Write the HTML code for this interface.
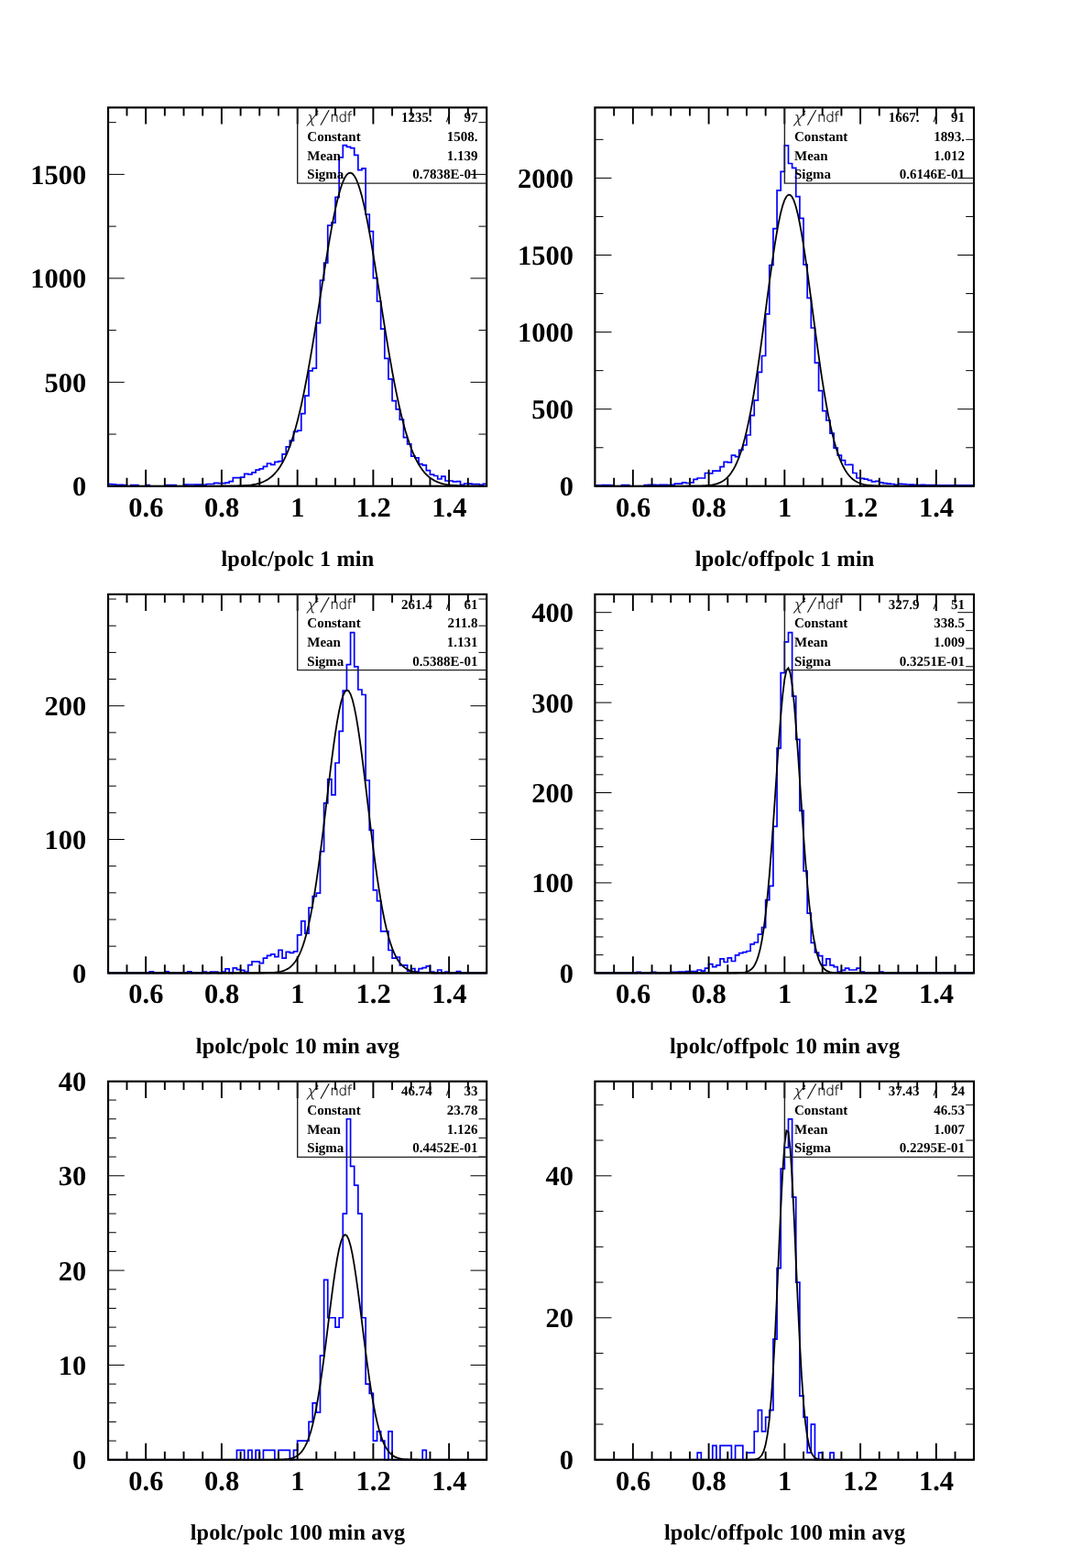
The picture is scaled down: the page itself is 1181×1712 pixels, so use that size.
<!DOCTYPE html>
<html lang="en">
<head>
<meta charset="utf-8">
<title>lpolc ratio fits</title>
<style>
html,body{margin:0;padding:0;background:#fff;}
body{width:1181px;height:1712px;overflow:hidden;}
svg{display:block;position:absolute;left:0;top:0;}
text{font-family:"Liberation Serif","DejaVu Serif",serif;font-weight:bold;fill:#000;text-rendering:geometricPrecision;}
.tl{font-size:30.5px;}
.ti{font-size:24.25px;letter-spacing:0.16px;}
.sv{font-size:15px;}
.chi{font-family:"DejaVu Sans Light","DejaVu Sans","Liberation Sans",sans-serif;font-weight:200;font-size:14.4px;fill:#000;stroke:#000;stroke-width:0.22px;}
.ci{font-style:italic;font-size:16.2px;}
.sl{font-size:22px;stroke:none;}
.nd{font-size:15.2px;letter-spacing:-0.35px;}
.sup{font-family:"Liberation Serif","DejaVu Serif",serif;font-weight:bold;font-size:7px;stroke:none;}
.h{fill:none;stroke:#0000ff;stroke-width:1.7;stroke-linejoin:miter;}
.f{fill:none;stroke:#000;stroke-width:1.8;stroke-linejoin:miter;stroke-miterlimit:10;}
.fr{fill:none;stroke:#000;stroke-width:2.15;}
.tx{fill:none;stroke:#000;stroke-width:1.9;}
.ty{fill:none;stroke:#000;stroke-width:1;}
.sb{fill:none;stroke:#222;stroke-width:1.4;}
</style>
</head>
<body>
<svg width="1181" height="1712" viewBox="0 0 1181 1712">
<rect width="1181" height="1712" fill="#fff"/>
<g class="panel">
<path class="h" d="M118.4 530.8V528.6H121.94V528.8H126.07V529.3H134.35V529.5H138.48V530.8H142.62V529.5H150.9V530.8H159.17V529.6H163.31V530.8H179.85V529.5H188.13V529.6H192.27V530.8H200.54V529.2H204.68V529H212.95V529.2H221.22V529.3H225.36V528.5H233.64V527.3H237.77V527.7H246.05V527.1H250.18V525.7H254.32V521.6H262.59V521.1H266.73V517.4H270.87V517.9H275.01V515.8H279.14V513.1H283.28V511.9H287.42V509.3H291.55V506H295.69V507.3H299.83V504.4H303.96V503.7H308.1V495.8H312.24V487.9H316.38V481.1H320.51V471.3H324.65V470.2H328.79V451.7H332.92V432.2H337.06V404.8H341.2V402.1H345.33V352.7H349.47V306H353.61V287H357.75V246.1H361.88V243.1H366.02V215.3H370.16V171.8H374.29V158.7H378.43V160.4H382.57V161.7H386.7V169.4H390.84V185.6H394.98V183.9H399.12V234H403.25V252.6H407.39V303.6H411.53V329H415.66V359.2H419.8V391.3H423.94V413.8H428.07V437.7H432.21V446.9H436.35V458.2H440.49V477.6H444.62V484.8H448.76V498.1H452.9V499.9H457.03V506.6H461.17V507.9H465.31V513.6H469.44V518.1H473.58V519.5H477.72V523H481.86V520.1H485.99V525H494.27V525.9H498.4V525.7H502.54V529.3H506.68V528H510.81V528.2H514.95V528.6H519.09V528.7H523.23V529.4H527.36V528.3H530.9V530.8"/>
<polyline class="f" points="117.8,530.8 119.87,530.8 121.94,530.8 124.01,530.8 126.07,530.8 128.14,530.8 130.21,530.8 132.28,530.8 134.35,530.8 136.42,530.8 138.49,530.8 140.55,530.8 142.62,530.8 144.69,530.8 146.76,530.8 148.83,530.8 150.9,530.8 152.96,530.8 155.03,530.8 157.1,530.8 159.17,530.8 161.24,530.8 163.31,530.8 165.38,530.8 167.44,530.8 169.51,530.8 171.58,530.8 173.65,530.8 175.72,530.8 177.79,530.8 179.86,530.8 181.92,530.8 183.99,530.8 186.06,530.8 188.13,530.8 190.2,530.8 192.27,530.8 194.33,530.8 196.4,530.8 198.47,530.8 200.54,530.8 202.61,530.8 204.68,530.8 206.75,530.8 208.81,530.8 210.88,530.8 212.95,530.8 215.02,530.8 217.09,530.8 219.16,530.8 221.22,530.8 223.29,530.8 225.36,530.8 227.43,530.8 229.5,530.79 231.57,530.79 233.64,530.79 235.7,530.79 237.77,530.78 239.84,530.78 241.91,530.77 243.98,530.76 246.05,530.75 248.12,530.73 250.18,530.71 252.25,530.69 254.32,530.66 256.39,530.61 258.46,530.56 260.53,530.5 262.6,530.42 264.66,530.32 266.73,530.19 268.8,530.04 270.87,529.85 272.94,529.62 275.01,529.34 277.07,529.01 279.14,528.6 281.21,528.11 283.28,527.52 285.35,526.83 287.42,526.01 289.49,525.04 291.55,523.9 293.62,522.57 295.69,521.02 297.76,519.23 299.83,517.17 301.9,514.8 303.96,512.11 306.03,509.04 308.1,505.58 310.17,501.68 312.24,497.32 314.31,492.46 316.38,487.08 318.44,481.14 320.51,474.62 322.58,467.51 324.65,459.78 326.72,451.44 328.79,442.47 330.86,432.89 332.92,422.72 334.99,411.97 337.06,400.68 339.13,388.9 341.2,376.68 343.27,364.09 345.34,351.2 347.4,338.1 349.47,324.88 351.54,311.65 353.61,298.52 355.68,285.6 357.75,273.02 359.81,260.89 361.88,249.33 363.95,238.48 366.02,228.43 368.09,219.32 370.16,211.23 372.23,204.26 374.29,198.5 376.36,194.01 378.43,190.84 380.5,189.03 382.57,188.62 384.64,189.59 386.7,191.94 388.77,195.65 390.84,200.65 392.91,206.91 394.98,214.34 397.05,222.85 399.12,232.35 401.18,242.73 403.25,253.88 405.32,265.68 407.39,278 409.46,290.74 411.53,303.75 413.6,316.94 415.66,330.17 417.73,343.36 419.8,356.38 421.87,369.16 423.94,381.61 426.01,393.67 428.07,405.26 430.14,416.33 432.21,426.86 434.28,436.8 436.35,446.13 438.42,454.85 440.49,462.95 442.55,470.43 444.62,477.3 446.69,483.58 448.76,489.3 450.83,494.47 452.9,499.12 454.97,503.3 457.03,507.01 459.1,510.31 461.17,513.23 463.24,515.79 465.31,518.03 467.38,519.98 469.45,521.67 471.51,523.12 473.58,524.37 475.65,525.44 477.72,526.35 479.79,527.12 481.86,527.77 483.92,528.32 485.99,528.77 488.06,529.15 490.13,529.46 492.2,529.72 494.27,529.93 496.34,530.11 498.4,530.25 500.47,530.36 502.54,530.45 504.61,530.53 506.68,530.59 508.75,530.63 510.82,530.67 512.88,530.7 514.95,530.72 517.02,530.74 519.09,530.75 521.16,530.77 523.23,530.77 525.29,530.78 527.36,530.78 529.43,530.79 531.5,530.79"/>
<rect class="fr" x="118.05" y="117.4" width="413.15" height="413.35"/>
<path class="tx" d="M138.49 530.8v-9M138.49 117.6v9M159.17 530.8v-18M159.17 117.6v18M179.86 530.8v-9M179.86 117.6v9M200.54 530.8v-9M200.54 117.6v9M221.22 530.8v-9M221.22 117.6v9M241.91 530.8v-18M241.91 117.6v18M262.6 530.8v-9M262.6 117.6v9M283.28 530.8v-9M283.28 117.6v9M303.96 530.8v-9M303.96 117.6v9M324.65 530.8v-18M324.65 117.6v18M345.34 530.8v-9M345.34 117.6v9M366.02 530.8v-9M366.02 117.6v9M386.7 530.8v-9M386.7 117.6v9M407.39 530.8v-18M407.39 117.6v18M428.07 530.8v-9M428.07 117.6v9M448.76 530.8v-9M448.76 117.6v9M469.45 530.8v-9M469.45 117.6v9M490.13 530.8v-18M490.13 117.6v18M510.82 530.8v-9M510.82 117.6v9"/>
<path class="ty" d="M117.8 474.07h9M531.5 474.07h-9M117.8 417.33h18M531.5 417.33h-18M117.8 360.6h9M531.5 360.6h-9M117.8 303.87h18M531.5 303.87h-18M117.8 247.14h9M531.5 247.14h-9M117.8 190.4h18M531.5 190.4h-18M117.8 133.67h9M531.5 133.67h-9"/>
<text class="tl" text-anchor="end" transform="translate(94.3 541) scale(1 0.985)">0</text>
<text class="tl" text-anchor="end" transform="translate(94.3 428) scale(1 0.985)">500</text>
<text class="tl" text-anchor="end" transform="translate(94.3 314) scale(1 0.985)">1000</text>
<text class="tl" text-anchor="end" transform="translate(94.3 201) scale(1 0.985)">1500</text>
<text class="tl" text-anchor="middle" transform="translate(159.37 564) scale(1 0.985)">0.6</text>
<text class="tl" text-anchor="middle" transform="translate(242.11 564) scale(1 0.985)">0.8</text>
<text class="tl" text-anchor="middle" transform="translate(324.85 564) scale(1 0.985)">1</text>
<text class="tl" text-anchor="middle" transform="translate(407.59 564) scale(1 0.985)">1.2</text>
<text class="tl" text-anchor="middle" transform="translate(490.33 564) scale(1 0.985)">1.4</text>
<text class="ti" text-anchor="middle" x="324.95" y="618">lpolc/polc 1 min</text>
<path class="sb" d="M324.7 117.3V200.1H531.5"/>
<text class="chi"><tspan class="ci" x="334.4" y="133.6">χ</tspan><tspan class="sup" x="344.2" y="125.3">2</tspan><tspan class="sl" x="349.4" y="134.4" rotate="12">/</tspan><tspan class="nd" x="360.2" y="133.1">ndf</tspan></text>
<text class="sv" text-anchor="end" x="471.8" y="133">1235.</text>
<text class="sv" x="487" y="133">/</text>
<text class="sv" text-anchor="end" x="521.4" y="133">97</text>
<text class="sv" x="335.3" y="154">Constant</text>
<text class="sv" text-anchor="end" x="521.4" y="154">1508.</text>
<text class="sv" x="335.3" y="175">Mean</text>
<text class="sv" text-anchor="end" x="521.4" y="175">1.139</text>
<text class="sv" x="335.3" y="195">Sigma</text>
<text class="sv" text-anchor="end" x="521.4" y="195">0.7838E-01</text>
</g>
<g class="panel">
<path class="h" d="M650.1 530.8V529.8H657.77V529.6H666.05V529.8H670.18V530.8H678.46V529.6H686.73V530.8H703.28V529.6H707.42V529.3H715.69V529.5H719.83V529.3H728.1V529.5H732.24V529.3H736.38V528.1H744.65V526.9H748.79V527.5H752.92V526.9H757.06V523.4H761.2V522H769.47V516.5H773.61V516.8H777.75V514.2H786.02V509.7H790.16V504.4H794.29V504.8H798.43V497.1H802.57V498.7H806.71V491.3H810.84V486H814.98V475H819.12V453.6H823.25V437.1H827.39V406.4H831.53V388.5H835.66V342.9H839.8V289.5H843.94V249.6H848.08V207.9H852.21V187.3H856.35V158.8H860.49V178.5H864.62V183.4H868.76V214.6H872.9V238.3H877.03V288.9H881.17V325.4H885.31V358H889.45V396.2H893.58V426.7H897.72V448.7H901.86V459H905.99V473.2H910.13V489.2H914.27V497.1H918.4V502.7H922.54V507.5H926.68V507.3H930.82V516.5H934.95V522H939.09V522.3H943.23V523.2H947.36V524.4H951.5V525.9H955.64V525.4H959.77V526.9H963.91V527.7H968.05V528.1H972.19V528.5H976.32V529.3H980.46V528.4H984.6V528.7H988.73V529H992.87V529.2H997.01V529.3H1001.14V529.5H1005.28V529.3H1009.42V529.5H1013.56V529.6H1021.83V529.8H1025.97V529.9H1030.1V529.8H1034.24V529.9H1062.6V530.8"/>
<polyline class="f" points="649.5,530.8 651.57,530.8 653.64,530.8 655.71,530.8 657.77,530.8 659.84,530.8 661.91,530.8 663.98,530.8 666.05,530.8 668.12,530.8 670.19,530.8 672.25,530.8 674.32,530.8 676.39,530.8 678.46,530.8 680.53,530.8 682.6,530.8 684.66,530.8 686.73,530.8 688.8,530.8 690.87,530.8 692.94,530.8 695.01,530.8 697.08,530.8 699.14,530.8 701.21,530.8 703.28,530.8 705.35,530.8 707.42,530.8 709.49,530.8 711.56,530.8 713.62,530.8 715.69,530.8 717.76,530.8 719.83,530.8 721.9,530.8 723.97,530.8 726.03,530.8 728.1,530.8 730.17,530.8 732.24,530.8 734.31,530.8 736.38,530.8 738.45,530.8 740.51,530.8 742.58,530.79 744.65,530.79 746.72,530.79 748.79,530.78 750.86,530.77 752.92,530.76 754.99,530.75 757.06,530.73 759.13,530.7 761.2,530.66 763.27,530.61 765.34,530.54 767.4,530.45 769.47,530.33 771.54,530.17 773.61,529.97 775.68,529.7 777.75,529.36 779.82,528.93 781.88,528.38 783.95,527.69 786.02,526.83 788.09,525.77 790.16,524.46 792.23,522.86 794.3,520.93 796.36,518.61 798.43,515.84 800.5,512.57 802.57,508.73 804.64,504.25 806.71,499.08 808.77,493.15 810.84,486.4 812.91,478.8 814.98,470.29 817.05,460.85 819.12,450.47 821.19,439.16 823.25,426.95 825.32,413.89 827.39,400.05 829.46,385.54 831.53,370.49 833.6,355.04 835.66,339.38 837.73,323.69 839.8,308.2 841.87,293.12 843.94,278.7 846.01,265.17 848.08,252.76 850.14,241.69 852.21,232.16 854.28,224.35 856.35,218.41 858.42,214.46 860.49,212.57 862.56,212.78 864.62,215.08 866.69,219.44 868.76,225.76 870.83,233.93 872.9,243.78 874.97,255.14 877.04,267.79 879.1,281.52 881.17,296.09 883.24,311.27 885.31,326.82 887.38,342.52 889.45,358.15 891.51,373.54 893.58,388.49 895.65,402.88 897.72,416.57 899.79,429.46 901.86,441.5 903.93,452.62 905.99,462.81 908.06,472.06 910.13,480.39 912.2,487.82 914.27,494.4 916.34,500.17 918.4,505.2 920.47,509.55 922.54,513.27 924.61,516.44 926.68,519.11 928.75,521.35 930.82,523.21 932.88,524.74 934.95,526 937.02,527.02 939.09,527.84 941.16,528.5 943.23,529.02 945.3,529.44 947.36,529.76 949.43,530.02 951.5,530.21 953.57,530.36 955.64,530.47 957.71,530.56 959.77,530.62 961.84,530.67 963.91,530.71 965.98,530.73 968.05,530.75 970.12,530.77 972.19,530.78 974.25,530.78 976.32,530.79 978.39,530.79 980.46,530.79 982.53,530.8 984.6,530.8 986.67,530.8 988.73,530.8 990.8,530.8 992.87,530.8 994.94,530.8 997.01,530.8 999.08,530.8 1001.14,530.8 1003.21,530.8 1005.28,530.8 1007.35,530.8 1009.42,530.8 1011.49,530.8 1013.56,530.8 1015.62,530.8 1017.69,530.8 1019.76,530.8 1021.83,530.8 1023.9,530.8 1025.97,530.8 1028.04,530.8 1030.1,530.8 1032.17,530.8 1034.24,530.8 1036.31,530.8 1038.38,530.8 1040.45,530.8 1042.52,530.8 1044.58,530.8 1046.65,530.8 1048.72,530.8 1050.79,530.8 1052.86,530.8 1054.93,530.8 1056.99,530.8 1059.06,530.8 1061.13,530.8 1063.2,530.8"/>
<rect class="fr" x="649.4" y="117.4" width="413.6" height="413.35"/>
<path class="tx" d="M670.19 530.8v-9M670.19 117.6v9M690.87 530.8v-18M690.87 117.6v18M711.56 530.8v-9M711.56 117.6v9M732.24 530.8v-9M732.24 117.6v9M752.92 530.8v-9M752.92 117.6v9M773.61 530.8v-18M773.61 117.6v18M794.3 530.8v-9M794.3 117.6v9M814.98 530.8v-9M814.98 117.6v9M835.66 530.8v-9M835.66 117.6v9M856.35 530.8v-18M856.35 117.6v18M877.04 530.8v-9M877.04 117.6v9M897.72 530.8v-9M897.72 117.6v9M918.4 530.8v-9M918.4 117.6v9M939.09 530.8v-18M939.09 117.6v18M959.77 530.8v-9M959.77 117.6v9M980.46 530.8v-9M980.46 117.6v9M1001.14 530.8v-9M1001.14 117.6v9M1021.83 530.8v-18M1021.83 117.6v18M1042.52 530.8v-9M1042.52 117.6v9"/>
<path class="ty" d="M649.5 488.75h9M1063.2 488.75h-9M649.5 446.7h18M1063.2 446.7h-18M649.5 404.65h9M1063.2 404.65h-9M649.5 362.6h18M1063.2 362.6h-18M649.5 320.55h9M1063.2 320.55h-9M649.5 278.5h18M1063.2 278.5h-18M649.5 236.45h9M1063.2 236.45h-9M649.5 194.4h18M1063.2 194.4h-18M649.5 152.35h9M1063.2 152.35h-9"/>
<text class="tl" text-anchor="end" transform="translate(626 541) scale(1 0.985)">0</text>
<text class="tl" text-anchor="end" transform="translate(626 457) scale(1 0.985)">500</text>
<text class="tl" text-anchor="end" transform="translate(626 373) scale(1 0.985)">1000</text>
<text class="tl" text-anchor="end" transform="translate(626 289) scale(1 0.985)">1500</text>
<text class="tl" text-anchor="end" transform="translate(626 205) scale(1 0.985)">2000</text>
<text class="tl" text-anchor="middle" transform="translate(691.07 564) scale(1 0.985)">0.6</text>
<text class="tl" text-anchor="middle" transform="translate(773.81 564) scale(1 0.985)">0.8</text>
<text class="tl" text-anchor="middle" transform="translate(856.55 564) scale(1 0.985)">1</text>
<text class="tl" text-anchor="middle" transform="translate(939.29 564) scale(1 0.985)">1.2</text>
<text class="tl" text-anchor="middle" transform="translate(1022.03 564) scale(1 0.985)">1.4</text>
<text class="ti" text-anchor="middle" x="856.65" y="618">lpolc/offpolc 1 min</text>
<path class="sb" d="M856.4 117.3V200.1H1063.2"/>
<text class="chi"><tspan class="ci" x="866.1" y="133.6">χ</tspan><tspan class="sup" x="875.9" y="125.3">2</tspan><tspan class="sl" x="881.1" y="134.4" rotate="12">/</tspan><tspan class="nd" x="891.9" y="133.1">ndf</tspan></text>
<text class="sv" text-anchor="end" x="1003.5" y="133">1667.</text>
<text class="sv" x="1018.7" y="133">/</text>
<text class="sv" text-anchor="end" x="1053.1" y="133">91</text>
<text class="sv" x="867" y="154">Constant</text>
<text class="sv" text-anchor="end" x="1053.1" y="154">1893.</text>
<text class="sv" x="867" y="175">Mean</text>
<text class="sv" text-anchor="end" x="1053.1" y="175">1.012</text>
<text class="sv" x="867" y="195">Sigma</text>
<text class="sv" text-anchor="end" x="1053.1" y="195">0.6146E-01</text>
</g>
<g class="panel">
<path class="h" d="M118.4 1062.3H163.31V1060.8H167.44V1062.3H179.85V1060.8H183.99V1062.3H204.68V1060.8H208.81V1062.3H221.22V1061H225.36V1062.3H229.5V1061H237.77V1062.3H241.91V1061H246.05V1057.9H250.18V1062.3H254.32V1056.9H258.46V1058.7H262.59V1059.3H266.73V1061H270.87V1053.6H275.01V1049.8H283.28V1051.7H287.42V1046.2H291.55V1043.4H295.69V1041.9H299.83V1044.6H303.96V1037.3H308.1V1046.2H312.24V1039.3H316.38V1040.3H320.51V1038.9H324.65V1020.9H328.79V1005.7H332.92V1019.1H337.06V991H341.2V978.7H345.33V975.1H349.47V929.6H353.61V876.9H357.75V850.8H361.88V867.9H366.02V833H370.16V798.4H374.29V754.2H378.43V725.6H382.57V690.7H386.7V727.8H390.84V753H394.98V758.5H399.12V852H403.25V906.4H407.39V971.9H411.53V983.7H415.66V1016.8H423.94V1037.5H428.07V1046.2H432.21V1045H436.35V1053.8H444.62V1060.2H448.76V1057.7H452.9V1061.2H457.03V1057.7H461.17V1056.6H465.31V1054.8H469.44V1061H473.58V1062.3H477.72V1059H481.86V1062.3H485.99V1061H490.13V1062.3H498.4V1060.6H502.54V1062.3H530.9V1062.3"/>
<polyline class="f" points="117.8,1062.3 119.87,1062.3 121.94,1062.3 124.01,1062.3 126.07,1062.3 128.14,1062.3 130.21,1062.3 132.28,1062.3 134.35,1062.3 136.42,1062.3 138.49,1062.3 140.55,1062.3 142.62,1062.3 144.69,1062.3 146.76,1062.3 148.83,1062.3 150.9,1062.3 152.96,1062.3 155.03,1062.3 157.1,1062.3 159.17,1062.3 161.24,1062.3 163.31,1062.3 165.38,1062.3 167.44,1062.3 169.51,1062.3 171.58,1062.3 173.65,1062.3 175.72,1062.3 177.79,1062.3 179.86,1062.3 181.92,1062.3 183.99,1062.3 186.06,1062.3 188.13,1062.3 190.2,1062.3 192.27,1062.3 194.33,1062.3 196.4,1062.3 198.47,1062.3 200.54,1062.3 202.61,1062.3 204.68,1062.3 206.75,1062.3 208.81,1062.3 210.88,1062.3 212.95,1062.3 215.02,1062.3 217.09,1062.3 219.16,1062.3 221.22,1062.3 223.29,1062.3 225.36,1062.3 227.43,1062.3 229.5,1062.3 231.57,1062.3 233.64,1062.3 235.7,1062.3 237.77,1062.3 239.84,1062.3 241.91,1062.3 243.98,1062.3 246.05,1062.3 248.12,1062.3 250.18,1062.3 252.25,1062.3 254.32,1062.3 256.39,1062.3 258.46,1062.3 260.53,1062.3 262.6,1062.3 264.66,1062.3 266.73,1062.3 268.8,1062.3 270.87,1062.3 272.94,1062.3 275.01,1062.29 277.07,1062.29 279.14,1062.29 281.21,1062.28 283.28,1062.27 285.35,1062.25 287.42,1062.23 289.49,1062.2 291.55,1062.16 293.62,1062.09 295.69,1062.01 297.76,1061.89 299.83,1061.72 301.9,1061.5 303.96,1061.21 306.03,1060.81 308.1,1060.29 310.17,1059.62 312.24,1058.75 314.31,1057.63 316.38,1056.22 318.44,1054.44 320.51,1052.24 322.58,1049.53 324.65,1046.23 326.72,1042.25 328.79,1037.49 330.86,1031.88 332.92,1025.31 334.99,1017.71 337.06,1009.01 339.13,999.16 341.2,988.12 343.27,975.91 345.34,962.55 347.4,948.11 349.47,932.7 351.54,916.47 353.61,899.61 355.68,882.37 357.75,865 359.81,847.81 361.88,831.12 363.95,815.27 366.02,800.6 368.09,787.44 370.16,776.08 372.23,766.82 374.29,759.86 376.36,755.4 378.43,753.55 380.5,754.35 382.57,757.77 384.64,763.75 386.7,772.11 388.77,782.66 390.84,795.14 392.91,809.24 394.98,824.66 397.05,841.06 399.12,858.08 401.18,875.42 403.25,892.75 405.32,909.79 407.39,926.29 409.46,942.05 411.53,956.9 413.6,970.7 415.66,983.38 417.73,994.89 419.8,1005.21 421.87,1014.37 423.94,1022.4 426.01,1029.37 428.07,1035.36 430.14,1040.44 432.21,1044.72 434.28,1048.29 436.35,1051.22 438.42,1053.62 440.49,1055.55 442.55,1057.1 444.62,1058.33 446.69,1059.29 448.76,1060.04 450.83,1060.62 452.9,1061.06 454.97,1061.39 457.03,1061.64 459.1,1061.83 461.17,1061.96 463.24,1062.06 465.31,1062.13 467.38,1062.18 469.45,1062.22 471.51,1062.25 473.58,1062.26 475.65,1062.28 477.72,1062.28 479.79,1062.29 481.86,1062.29 483.92,1062.3 485.99,1062.3 488.06,1062.3 490.13,1062.3 492.2,1062.3 494.27,1062.3 496.34,1062.3 498.4,1062.3 500.47,1062.3 502.54,1062.3 504.61,1062.3 506.68,1062.3 508.75,1062.3 510.82,1062.3 512.88,1062.3 514.95,1062.3 517.02,1062.3 519.09,1062.3 521.16,1062.3 523.23,1062.3 525.29,1062.3 527.36,1062.3 529.43,1062.3 531.5,1062.3"/>
<rect class="fr" x="118.05" y="648.9" width="413.15" height="413.55"/>
<path class="tx" d="M138.49 1062.3v-9M138.49 649.1v9M159.17 1062.3v-18M159.17 649.1v18M179.86 1062.3v-9M179.86 649.1v9M200.54 1062.3v-9M200.54 649.1v9M221.22 1062.3v-9M221.22 649.1v9M241.91 1062.3v-18M241.91 649.1v18M262.6 1062.3v-9M262.6 649.1v9M283.28 1062.3v-9M283.28 649.1v9M303.96 1062.3v-9M303.96 649.1v9M324.65 1062.3v-18M324.65 649.1v18M345.34 1062.3v-9M345.34 649.1v9M366.02 1062.3v-9M366.02 649.1v9M386.7 1062.3v-9M386.7 649.1v9M407.39 1062.3v-18M407.39 649.1v18M428.07 1062.3v-9M428.07 649.1v9M448.76 1062.3v-9M448.76 649.1v9M469.45 1062.3v-9M469.45 649.1v9M490.13 1062.3v-18M490.13 649.1v18M510.82 1062.3v-9M510.82 649.1v9"/>
<path class="ty" d="M117.8 1033.14h9M531.5 1033.14h-9M117.8 1003.98h9M531.5 1003.98h-9M117.8 974.82h9M531.5 974.82h-9M117.8 945.66h9M531.5 945.66h-9M117.8 916.5h18M531.5 916.5h-18M117.8 887.34h9M531.5 887.34h-9M117.8 858.18h9M531.5 858.18h-9M117.8 829.02h9M531.5 829.02h-9M117.8 799.86h9M531.5 799.86h-9M117.8 770.7h18M531.5 770.7h-18M117.8 741.54h9M531.5 741.54h-9M117.8 712.38h9M531.5 712.38h-9M117.8 683.22h9M531.5 683.22h-9M117.8 654.06h9M531.5 654.06h-9"/>
<text class="tl" text-anchor="end" transform="translate(94.3 1073) scale(1 0.985)">0</text>
<text class="tl" text-anchor="end" transform="translate(94.3 927) scale(1 0.985)">100</text>
<text class="tl" text-anchor="end" transform="translate(94.3 781) scale(1 0.985)">200</text>
<text class="tl" text-anchor="middle" transform="translate(159.37 1095) scale(1 0.985)">0.6</text>
<text class="tl" text-anchor="middle" transform="translate(242.11 1095) scale(1 0.985)">0.8</text>
<text class="tl" text-anchor="middle" transform="translate(324.85 1095) scale(1 0.985)">1</text>
<text class="tl" text-anchor="middle" transform="translate(407.59 1095) scale(1 0.985)">1.2</text>
<text class="tl" text-anchor="middle" transform="translate(490.33 1095) scale(1 0.985)">1.4</text>
<text class="ti" text-anchor="middle" x="324.95" y="1150">lpolc/polc 10 min avg</text>
<path class="sb" d="M324.7 648.8V731.6H531.5"/>
<text class="chi"><tspan class="ci" x="334.4" y="665.6">χ</tspan><tspan class="sup" x="344.2" y="656.8">2</tspan><tspan class="sl" x="349.4" y="666.4" rotate="12">/</tspan><tspan class="nd" x="360.2" y="665.1">ndf</tspan></text>
<text class="sv" text-anchor="end" x="471.8" y="665">261.4</text>
<text class="sv" x="487" y="665">/</text>
<text class="sv" text-anchor="end" x="521.4" y="665">61</text>
<text class="sv" x="335.3" y="685">Constant</text>
<text class="sv" text-anchor="end" x="521.4" y="685">211.8</text>
<text class="sv" x="335.3" y="706">Mean</text>
<text class="sv" text-anchor="end" x="521.4" y="706">1.131</text>
<text class="sv" x="335.3" y="727">Sigma</text>
<text class="sv" text-anchor="end" x="521.4" y="727">0.5388E-01</text>
</g>
<g class="panel">
<path class="h" d="M650.1 1062.3H695.01V1061.3H699.14V1062.3H711.55V1061.3H715.69V1062.3H732.24V1061.3H740.51V1061.2H748.79V1060.6H761.2V1059H765.34V1060.2H769.47V1057.1H773.61V1052.6H777.75V1055.7H781.88V1053.8H786.02V1046.8H790.16V1050.5H794.29V1045.8H798.43V1049.5H802.57V1042.8H806.71V1040.6H810.84V1039.7H814.98V1038.5H819.12V1030.8H823.25V1029H827.39V1020.1H831.53V1012.7H835.66V982.7H839.8V967.3H843.94V902.3H848.08V816.9H852.21V734.7H856.35V700.8H860.49V690.6H864.62V760.1H868.76V807.3H872.9V885.2H877.03V951H881.17V997.1H885.31V1029.3H889.45V1040H893.58V1043.6H897.72V1053.8H901.86V1046.8H905.99V1053.8H910.13V1055.7H914.27V1061H918.4V1059.3H922.54V1057.1H926.68V1059H934.95V1057.1H939.09V1061H943.23V1062.3H959.77V1061H963.91V1062.3H1062.6V1062.3"/>
<polyline class="f" points="649.5,1062.3 651.57,1062.3 653.64,1062.3 655.71,1062.3 657.77,1062.3 659.84,1062.3 661.91,1062.3 663.98,1062.3 666.05,1062.3 668.12,1062.3 670.19,1062.3 672.25,1062.3 674.32,1062.3 676.39,1062.3 678.46,1062.3 680.53,1062.3 682.6,1062.3 684.66,1062.3 686.73,1062.3 688.8,1062.3 690.87,1062.3 692.94,1062.3 695.01,1062.3 697.08,1062.3 699.14,1062.3 701.21,1062.3 703.28,1062.3 705.35,1062.3 707.42,1062.3 709.49,1062.3 711.56,1062.3 713.62,1062.3 715.69,1062.3 717.76,1062.3 719.83,1062.3 721.9,1062.3 723.97,1062.3 726.03,1062.3 728.1,1062.3 730.17,1062.3 732.24,1062.3 734.31,1062.3 736.38,1062.3 738.45,1062.3 740.51,1062.3 742.58,1062.3 744.65,1062.3 746.72,1062.3 748.79,1062.3 750.86,1062.3 752.92,1062.3 754.99,1062.3 757.06,1062.3 759.13,1062.3 761.2,1062.3 763.27,1062.3 765.34,1062.3 767.4,1062.3 769.47,1062.3 771.54,1062.3 773.61,1062.3 775.68,1062.3 777.75,1062.3 779.82,1062.3 781.88,1062.3 783.95,1062.3 786.02,1062.3 788.09,1062.3 790.16,1062.3 792.23,1062.3 794.3,1062.3 796.36,1062.3 798.43,1062.29 800.5,1062.28 802.57,1062.26 804.64,1062.23 806.71,1062.17 808.77,1062.07 810.84,1061.89 812.91,1061.59 814.98,1061.09 817.05,1060.3 819.12,1059.07 821.19,1057.21 823.25,1054.45 825.32,1050.47 827.39,1044.91 829.46,1037.33 831.53,1027.28 833.6,1014.33 835.66,998.13 837.73,978.46 839.8,955.33 841.87,929.01 843.94,900.1 846.01,869.53 848.08,838.55 850.14,808.66 852.21,781.51 854.28,758.71 856.35,741.74 858.42,731.73 860.49,729.37 862.56,734.84 864.62,747.75 866.69,767.21 868.76,791.94 870.83,820.38 872.9,850.9 874.97,881.88 877.04,911.92 879.1,939.89 881.17,964.99 883.24,986.75 885.31,1005.01 887.38,1019.88 889.45,1031.62 891.51,1040.63 893.58,1047.35 895.65,1052.23 897.72,1055.68 899.79,1058.04 901.86,1059.63 903.93,1060.66 905.99,1061.32 908.06,1061.73 910.13,1061.97 912.2,1062.12 914.27,1062.2 916.34,1062.25 918.4,1062.27 920.47,1062.29 922.54,1062.29 924.61,1062.3 926.68,1062.3 928.75,1062.3 930.82,1062.3 932.88,1062.3 934.95,1062.3 937.02,1062.3 939.09,1062.3 941.16,1062.3 943.23,1062.3 945.3,1062.3 947.36,1062.3 949.43,1062.3 951.5,1062.3 953.57,1062.3 955.64,1062.3 957.71,1062.3 959.77,1062.3 961.84,1062.3 963.91,1062.3 965.98,1062.3 968.05,1062.3 970.12,1062.3 972.19,1062.3 974.25,1062.3 976.32,1062.3 978.39,1062.3 980.46,1062.3 982.53,1062.3 984.6,1062.3 986.67,1062.3 988.73,1062.3 990.8,1062.3 992.87,1062.3 994.94,1062.3 997.01,1062.3 999.08,1062.3 1001.14,1062.3 1003.21,1062.3 1005.28,1062.3 1007.35,1062.3 1009.42,1062.3 1011.49,1062.3 1013.56,1062.3 1015.62,1062.3 1017.69,1062.3 1019.76,1062.3 1021.83,1062.3 1023.9,1062.3 1025.97,1062.3 1028.04,1062.3 1030.1,1062.3 1032.17,1062.3 1034.24,1062.3 1036.31,1062.3 1038.38,1062.3 1040.45,1062.3 1042.52,1062.3 1044.58,1062.3 1046.65,1062.3 1048.72,1062.3 1050.79,1062.3 1052.86,1062.3 1054.93,1062.3 1056.99,1062.3 1059.06,1062.3 1061.13,1062.3 1063.2,1062.3"/>
<rect class="fr" x="649.4" y="648.9" width="413.6" height="413.55"/>
<path class="tx" d="M670.19 1062.3v-9M670.19 649.1v9M690.87 1062.3v-18M690.87 649.1v18M711.56 1062.3v-9M711.56 649.1v9M732.24 1062.3v-9M732.24 649.1v9M752.92 1062.3v-9M752.92 649.1v9M773.61 1062.3v-18M773.61 649.1v18M794.3 1062.3v-9M794.3 649.1v9M814.98 1062.3v-9M814.98 649.1v9M835.66 1062.3v-9M835.66 649.1v9M856.35 1062.3v-18M856.35 649.1v18M877.04 1062.3v-9M877.04 649.1v9M897.72 1062.3v-9M897.72 649.1v9M918.4 1062.3v-9M918.4 649.1v9M939.09 1062.3v-18M939.09 649.1v18M959.77 1062.3v-9M959.77 649.1v9M980.46 1062.3v-9M980.46 649.1v9M1001.14 1062.3v-9M1001.14 649.1v9M1021.83 1062.3v-18M1021.83 649.1v18M1042.52 1062.3v-9M1042.52 649.1v9"/>
<path class="ty" d="M649.5 1042.62h9M1063.2 1042.62h-9M649.5 1022.94h9M1063.2 1022.94h-9M649.5 1003.26h9M1063.2 1003.26h-9M649.5 983.58h9M1063.2 983.58h-9M649.5 963.9h18M1063.2 963.9h-18M649.5 944.22h9M1063.2 944.22h-9M649.5 924.54h9M1063.2 924.54h-9M649.5 904.86h9M1063.2 904.86h-9M649.5 885.18h9M1063.2 885.18h-9M649.5 865.5h18M1063.2 865.5h-18M649.5 845.82h9M1063.2 845.82h-9M649.5 826.14h9M1063.2 826.14h-9M649.5 806.46h9M1063.2 806.46h-9M649.5 786.78h9M1063.2 786.78h-9M649.5 767.1h18M1063.2 767.1h-18M649.5 747.42h9M1063.2 747.42h-9M649.5 727.74h9M1063.2 727.74h-9M649.5 708.06h9M1063.2 708.06h-9M649.5 688.38h9M1063.2 688.38h-9M649.5 668.7h18M1063.2 668.7h-18"/>
<text class="tl" text-anchor="end" transform="translate(626 1073) scale(1 0.985)">0</text>
<text class="tl" text-anchor="end" transform="translate(626 974) scale(1 0.985)">100</text>
<text class="tl" text-anchor="end" transform="translate(626 876) scale(1 0.985)">200</text>
<text class="tl" text-anchor="end" transform="translate(626 778) scale(1 0.985)">300</text>
<text class="tl" text-anchor="end" transform="translate(626 679) scale(1 0.985)">400</text>
<text class="tl" text-anchor="middle" transform="translate(691.07 1095) scale(1 0.985)">0.6</text>
<text class="tl" text-anchor="middle" transform="translate(773.81 1095) scale(1 0.985)">0.8</text>
<text class="tl" text-anchor="middle" transform="translate(856.55 1095) scale(1 0.985)">1</text>
<text class="tl" text-anchor="middle" transform="translate(939.29 1095) scale(1 0.985)">1.2</text>
<text class="tl" text-anchor="middle" transform="translate(1022.03 1095) scale(1 0.985)">1.4</text>
<text class="ti" text-anchor="middle" x="856.65" y="1150">lpolc/offpolc 10 min avg</text>
<path class="sb" d="M856.4 648.8V731.6H1063.2"/>
<text class="chi"><tspan class="ci" x="866.1" y="665.6">χ</tspan><tspan class="sup" x="875.9" y="656.8">2</tspan><tspan class="sl" x="881.1" y="666.4" rotate="12">/</tspan><tspan class="nd" x="891.9" y="665.1">ndf</tspan></text>
<text class="sv" text-anchor="end" x="1003.5" y="665">327.9</text>
<text class="sv" x="1018.7" y="665">/</text>
<text class="sv" text-anchor="end" x="1053.1" y="665">51</text>
<text class="sv" x="867" y="685">Constant</text>
<text class="sv" text-anchor="end" x="1053.1" y="685">338.5</text>
<text class="sv" x="867" y="706">Mean</text>
<text class="sv" text-anchor="end" x="1053.1" y="706">1.009</text>
<text class="sv" x="867" y="727">Sigma</text>
<text class="sv" text-anchor="end" x="1053.1" y="727">0.3251E-01</text>
</g>
<g class="panel">
<path class="h" d="M118.4 1593.8H258.46V1583.46H266.73V1593.8H270.87V1583.46H275.01V1593.8H279.14V1583.46H283.28V1593.8H287.42V1583.46H299.83V1593.8H303.96V1583.46H316.38V1593.8H320.51V1583.46H324.65V1573.13H337.06V1552.46H341.2V1531.79H345.33V1542.12H349.47V1480.12H353.61V1397.43H357.75V1438.77H366.02V1449.11H370.16V1438.77H374.29V1325.09H378.43V1221.74H382.57V1273.41H386.7V1294.09H390.84V1325.09H394.98V1438.77H399.12V1511.12H403.25V1521.45H407.39V1573.13H411.53V1562.79H415.66V1573.13H419.8V1593.8H423.94V1562.79H428.07V1593.8H461.17V1583.46H465.31V1593.8H530.9V1593.8"/>
<polyline class="f" points="117.8,1593.8 119.87,1593.8 121.94,1593.8 124.01,1593.8 126.07,1593.8 128.14,1593.8 130.21,1593.8 132.28,1593.8 134.35,1593.8 136.42,1593.8 138.49,1593.8 140.55,1593.8 142.62,1593.8 144.69,1593.8 146.76,1593.8 148.83,1593.8 150.9,1593.8 152.96,1593.8 155.03,1593.8 157.1,1593.8 159.17,1593.8 161.24,1593.8 163.31,1593.8 165.38,1593.8 167.44,1593.8 169.51,1593.8 171.58,1593.8 173.65,1593.8 175.72,1593.8 177.79,1593.8 179.86,1593.8 181.92,1593.8 183.99,1593.8 186.06,1593.8 188.13,1593.8 190.2,1593.8 192.27,1593.8 194.33,1593.8 196.4,1593.8 198.47,1593.8 200.54,1593.8 202.61,1593.8 204.68,1593.8 206.75,1593.8 208.81,1593.8 210.88,1593.8 212.95,1593.8 215.02,1593.8 217.09,1593.8 219.16,1593.8 221.22,1593.8 223.29,1593.8 225.36,1593.8 227.43,1593.8 229.5,1593.8 231.57,1593.8 233.64,1593.8 235.7,1593.8 237.77,1593.8 239.84,1593.8 241.91,1593.8 243.98,1593.8 246.05,1593.8 248.12,1593.8 250.18,1593.8 252.25,1593.8 254.32,1593.8 256.39,1593.8 258.46,1593.8 260.53,1593.8 262.6,1593.8 264.66,1593.8 266.73,1593.8 268.8,1593.8 270.87,1593.8 272.94,1593.8 275.01,1593.8 277.07,1593.8 279.14,1593.8 281.21,1593.8 283.28,1593.8 285.35,1593.8 287.42,1593.8 289.49,1593.8 291.55,1593.79 293.62,1593.79 295.69,1593.78 297.76,1593.78 299.83,1593.76 301.9,1593.74 303.96,1593.7 306.03,1593.65 308.1,1593.56 310.17,1593.44 312.24,1593.27 314.31,1593.02 316.38,1592.66 318.44,1592.17 320.51,1591.49 322.58,1590.56 324.65,1589.32 326.72,1587.68 328.79,1585.55 330.86,1582.82 332.92,1579.36 334.99,1575.05 337.06,1569.77 339.13,1563.37 341.2,1555.76 343.27,1546.84 345.34,1536.56 347.4,1524.9 349.47,1511.9 351.54,1497.67 353.61,1482.38 355.68,1466.28 357.75,1449.69 359.81,1432.97 361.88,1416.57 363.95,1400.94 366.02,1386.57 368.09,1373.91 370.16,1363.4 372.23,1355.42 374.29,1350.26 376.36,1348.1 378.43,1349.02 380.5,1353 382.57,1359.89 384.64,1369.43 386.7,1381.27 388.77,1395.01 390.84,1410.2 392.91,1426.35 394.98,1442.99 397.05,1459.69 399.12,1476.03 401.18,1491.67 403.25,1506.35 405.32,1519.85 407.39,1532.06 409.46,1542.89 411.53,1552.35 413.6,1560.48 415.66,1567.35 417.73,1573.06 419.8,1577.75 421.87,1581.53 423.94,1584.54 426.01,1586.9 428.07,1588.72 430.14,1590.11 432.21,1591.15 434.28,1591.92 436.35,1592.49 438.42,1592.89 440.49,1593.18 442.55,1593.38 444.62,1593.52 446.69,1593.62 448.76,1593.68 450.83,1593.72 452.9,1593.75 454.97,1593.77 457.03,1593.78 459.1,1593.79 461.17,1593.79 463.24,1593.8 465.31,1593.8 467.38,1593.8 469.45,1593.8 471.51,1593.8 473.58,1593.8 475.65,1593.8 477.72,1593.8 479.79,1593.8 481.86,1593.8 483.92,1593.8 485.99,1593.8 488.06,1593.8 490.13,1593.8 492.2,1593.8 494.27,1593.8 496.34,1593.8 498.4,1593.8 500.47,1593.8 502.54,1593.8 504.61,1593.8 506.68,1593.8 508.75,1593.8 510.82,1593.8 512.88,1593.8 514.95,1593.8 517.02,1593.8 519.09,1593.8 521.16,1593.8 523.23,1593.8 525.29,1593.8 527.36,1593.8 529.43,1593.8 531.5,1593.8"/>
<rect class="fr" x="118.05" y="1180.7" width="413.15" height="413.05"/>
<path class="tx" d="M138.49 1593.8v-9M138.49 1180.9v9M159.17 1593.8v-18M159.17 1180.9v18M179.86 1593.8v-9M179.86 1180.9v9M200.54 1593.8v-9M200.54 1180.9v9M221.22 1593.8v-9M221.22 1180.9v9M241.91 1593.8v-18M241.91 1180.9v18M262.6 1593.8v-9M262.6 1180.9v9M283.28 1593.8v-9M283.28 1180.9v9M303.96 1593.8v-9M303.96 1180.9v9M324.65 1593.8v-18M324.65 1180.9v18M345.34 1593.8v-9M345.34 1180.9v9M366.02 1593.8v-9M366.02 1180.9v9M386.7 1593.8v-9M386.7 1180.9v9M407.39 1593.8v-18M407.39 1180.9v18M428.07 1593.8v-9M428.07 1180.9v9M448.76 1593.8v-9M448.76 1180.9v9M469.45 1593.8v-9M469.45 1180.9v9M490.13 1593.8v-18M490.13 1180.9v18M510.82 1593.8v-9M510.82 1180.9v9"/>
<path class="ty" d="M117.8 1573.13h9M531.5 1573.13h-9M117.8 1552.46h9M531.5 1552.46h-9M117.8 1531.79h9M531.5 1531.79h-9M117.8 1511.12h9M531.5 1511.12h-9M117.8 1490.45h18M531.5 1490.45h-18M117.8 1469.78h9M531.5 1469.78h-9M117.8 1449.11h9M531.5 1449.11h-9M117.8 1428.44h9M531.5 1428.44h-9M117.8 1407.77h9M531.5 1407.77h-9M117.8 1387.1h18M531.5 1387.1h-18M117.8 1366.43h9M531.5 1366.43h-9M117.8 1345.76h9M531.5 1345.76h-9M117.8 1325.09h9M531.5 1325.09h-9M117.8 1304.42h9M531.5 1304.42h-9M117.8 1283.75h18M531.5 1283.75h-18M117.8 1263.08h9M531.5 1263.08h-9M117.8 1242.41h9M531.5 1242.41h-9M117.8 1221.74h9M531.5 1221.74h-9M117.8 1201.07h9M531.5 1201.07h-9"/>
<text class="tl" text-anchor="end" transform="translate(94.3 1604) scale(1 0.985)">0</text>
<text class="tl" text-anchor="end" transform="translate(94.3 1501) scale(1 0.985)">10</text>
<text class="tl" text-anchor="end" transform="translate(94.3 1398) scale(1 0.985)">20</text>
<text class="tl" text-anchor="end" transform="translate(94.3 1294) scale(1 0.985)">30</text>
<text class="tl" text-anchor="end" transform="translate(94.3 1191) scale(1 0.985)">40</text>
<text class="tl" text-anchor="middle" transform="translate(159.37 1627) scale(1 0.985)">0.6</text>
<text class="tl" text-anchor="middle" transform="translate(242.11 1627) scale(1 0.985)">0.8</text>
<text class="tl" text-anchor="middle" transform="translate(324.85 1627) scale(1 0.985)">1</text>
<text class="tl" text-anchor="middle" transform="translate(407.59 1627) scale(1 0.985)">1.2</text>
<text class="tl" text-anchor="middle" transform="translate(490.33 1627) scale(1 0.985)">1.4</text>
<text class="ti" text-anchor="middle" x="324.95" y="1681">lpolc/polc 100 min avg</text>
<path class="sb" d="M324.7 1180.6V1263.4H531.5"/>
<text class="chi"><tspan class="ci" x="334.4" y="1196.6">χ</tspan><tspan class="sup" x="344.2" y="1188.6">2</tspan><tspan class="sl" x="349.4" y="1197.4" rotate="12">/</tspan><tspan class="nd" x="360.2" y="1196.1">ndf</tspan></text>
<text class="sv" text-anchor="end" x="471.8" y="1196">46.74</text>
<text class="sv" x="487" y="1196">/</text>
<text class="sv" text-anchor="end" x="521.4" y="1196">33</text>
<text class="sv" x="335.3" y="1217">Constant</text>
<text class="sv" text-anchor="end" x="521.4" y="1217">23.78</text>
<text class="sv" x="335.3" y="1238">Mean</text>
<text class="sv" text-anchor="end" x="521.4" y="1238">1.126</text>
<text class="sv" x="335.3" y="1258">Sigma</text>
<text class="sv" text-anchor="end" x="521.4" y="1258">0.4452E-01</text>
</g>
<g class="panel">
<path class="h" d="M650.1 1593.8H761.2V1586.05H765.34V1593.8H777.75V1578.3H781.88V1593.8H786.02V1578.3H798.43V1593.8H802.57V1578.3H810.84V1593.8H814.98V1586.05H823.25V1562.8H827.39V1539.55H831.53V1562.8H835.66V1547.3H839.8V1539.55H843.94V1462.05H848.08V1384.55H852.21V1276.05H856.35V1252.8H860.49V1221.8H864.62V1307.05H868.76V1400.05H872.9V1524.05H877.03V1547.3H881.17V1586.05H885.31V1555.05H889.45V1593.8H893.58V1586.05H897.72V1593.8H905.99V1586.05H910.13V1593.8H1062.6V1593.8"/>
<polyline class="f" points="649.5,1593.8 651.57,1593.8 653.64,1593.8 655.71,1593.8 657.77,1593.8 659.84,1593.8 661.91,1593.8 663.98,1593.8 666.05,1593.8 668.12,1593.8 670.19,1593.8 672.25,1593.8 674.32,1593.8 676.39,1593.8 678.46,1593.8 680.53,1593.8 682.6,1593.8 684.66,1593.8 686.73,1593.8 688.8,1593.8 690.87,1593.8 692.94,1593.8 695.01,1593.8 697.08,1593.8 699.14,1593.8 701.21,1593.8 703.28,1593.8 705.35,1593.8 707.42,1593.8 709.49,1593.8 711.56,1593.8 713.62,1593.8 715.69,1593.8 717.76,1593.8 719.83,1593.8 721.9,1593.8 723.97,1593.8 726.03,1593.8 728.1,1593.8 730.17,1593.8 732.24,1593.8 734.31,1593.8 736.38,1593.8 738.45,1593.8 740.51,1593.8 742.58,1593.8 744.65,1593.8 746.72,1593.8 748.79,1593.8 750.86,1593.8 752.92,1593.8 754.99,1593.8 757.06,1593.8 759.13,1593.8 761.2,1593.8 763.27,1593.8 765.34,1593.8 767.4,1593.8 769.47,1593.8 771.54,1593.8 773.61,1593.8 775.68,1593.8 777.75,1593.8 779.82,1593.8 781.88,1593.8 783.95,1593.8 786.02,1593.8 788.09,1593.8 790.16,1593.8 792.23,1593.8 794.3,1593.8 796.36,1593.8 798.43,1593.8 800.5,1593.8 802.57,1593.8 804.64,1593.8 806.71,1593.8 808.77,1593.8 810.84,1593.8 812.91,1593.8 814.98,1593.79 817.05,1593.78 819.12,1593.75 821.19,1593.68 823.25,1593.53 825.32,1593.19 827.39,1592.5 829.46,1591.17 831.53,1588.71 833.6,1584.42 835.66,1577.3 837.73,1566.12 839.8,1549.51 841.87,1526.23 843.94,1495.48 846.01,1457.38 848.08,1413.3 850.14,1366.03 852.21,1319.71 854.28,1279.27 856.35,1249.58 858.42,1234.56 860.49,1236.26 862.56,1254.45 864.62,1286.64 866.69,1328.67 868.76,1375.56 870.83,1422.48 872.9,1465.55 874.97,1502.24 877.04,1531.46 879.1,1553.33 881.17,1568.74 883.24,1579 885.31,1585.47 887.38,1589.33 889.45,1591.51 891.51,1592.68 893.58,1593.28 895.65,1593.57 897.72,1593.7 899.79,1593.76 901.86,1593.78 903.93,1593.79 905.99,1593.8 908.06,1593.8 910.13,1593.8 912.2,1593.8 914.27,1593.8 916.34,1593.8 918.4,1593.8 920.47,1593.8 922.54,1593.8 924.61,1593.8 926.68,1593.8 928.75,1593.8 930.82,1593.8 932.88,1593.8 934.95,1593.8 937.02,1593.8 939.09,1593.8 941.16,1593.8 943.23,1593.8 945.3,1593.8 947.36,1593.8 949.43,1593.8 951.5,1593.8 953.57,1593.8 955.64,1593.8 957.71,1593.8 959.77,1593.8 961.84,1593.8 963.91,1593.8 965.98,1593.8 968.05,1593.8 970.12,1593.8 972.19,1593.8 974.25,1593.8 976.32,1593.8 978.39,1593.8 980.46,1593.8 982.53,1593.8 984.6,1593.8 986.67,1593.8 988.73,1593.8 990.8,1593.8 992.87,1593.8 994.94,1593.8 997.01,1593.8 999.08,1593.8 1001.14,1593.8 1003.21,1593.8 1005.28,1593.8 1007.35,1593.8 1009.42,1593.8 1011.49,1593.8 1013.56,1593.8 1015.62,1593.8 1017.69,1593.8 1019.76,1593.8 1021.83,1593.8 1023.9,1593.8 1025.97,1593.8 1028.04,1593.8 1030.1,1593.8 1032.17,1593.8 1034.24,1593.8 1036.31,1593.8 1038.38,1593.8 1040.45,1593.8 1042.52,1593.8 1044.58,1593.8 1046.65,1593.8 1048.72,1593.8 1050.79,1593.8 1052.86,1593.8 1054.93,1593.8 1056.99,1593.8 1059.06,1593.8 1061.13,1593.8 1063.2,1593.8"/>
<rect class="fr" x="649.4" y="1180.7" width="413.6" height="413.05"/>
<path class="tx" d="M670.19 1593.8v-9M670.19 1180.9v9M690.87 1593.8v-18M690.87 1180.9v18M711.56 1593.8v-9M711.56 1180.9v9M732.24 1593.8v-9M732.24 1180.9v9M752.92 1593.8v-9M752.92 1180.9v9M773.61 1593.8v-18M773.61 1180.9v18M794.3 1593.8v-9M794.3 1180.9v9M814.98 1593.8v-9M814.98 1180.9v9M835.66 1593.8v-9M835.66 1180.9v9M856.35 1593.8v-18M856.35 1180.9v18M877.04 1593.8v-9M877.04 1180.9v9M897.72 1593.8v-9M897.72 1180.9v9M918.4 1593.8v-9M918.4 1180.9v9M939.09 1593.8v-18M939.09 1180.9v18M959.77 1593.8v-9M959.77 1180.9v9M980.46 1593.8v-9M980.46 1180.9v9M1001.14 1593.8v-9M1001.14 1180.9v9M1021.83 1593.8v-18M1021.83 1180.9v18M1042.52 1593.8v-9M1042.52 1180.9v9"/>
<path class="ty" d="M649.5 1555.05h9M1063.2 1555.05h-9M649.5 1516.3h9M1063.2 1516.3h-9M649.5 1477.55h9M1063.2 1477.55h-9M649.5 1438.8h18M1063.2 1438.8h-18M649.5 1400.05h9M1063.2 1400.05h-9M649.5 1361.3h9M1063.2 1361.3h-9M649.5 1322.55h9M1063.2 1322.55h-9M649.5 1283.8h18M1063.2 1283.8h-18M649.5 1245.05h9M1063.2 1245.05h-9M649.5 1206.3h9M1063.2 1206.3h-9"/>
<text class="tl" text-anchor="end" transform="translate(626 1604) scale(1 0.985)">0</text>
<text class="tl" text-anchor="end" transform="translate(626 1449) scale(1 0.985)">20</text>
<text class="tl" text-anchor="end" transform="translate(626 1294) scale(1 0.985)">40</text>
<text class="tl" text-anchor="middle" transform="translate(691.07 1627) scale(1 0.985)">0.6</text>
<text class="tl" text-anchor="middle" transform="translate(773.81 1627) scale(1 0.985)">0.8</text>
<text class="tl" text-anchor="middle" transform="translate(856.55 1627) scale(1 0.985)">1</text>
<text class="tl" text-anchor="middle" transform="translate(939.29 1627) scale(1 0.985)">1.2</text>
<text class="tl" text-anchor="middle" transform="translate(1022.03 1627) scale(1 0.985)">1.4</text>
<text class="ti" text-anchor="middle" x="856.65" y="1681">lpolc/offpolc 100 min avg</text>
<path class="sb" d="M856.4 1180.6V1263.4H1063.2"/>
<text class="chi"><tspan class="ci" x="866.1" y="1196.6">χ</tspan><tspan class="sup" x="875.9" y="1188.6">2</tspan><tspan class="sl" x="881.1" y="1197.4" rotate="12">/</tspan><tspan class="nd" x="891.9" y="1196.1">ndf</tspan></text>
<text class="sv" text-anchor="end" x="1003.5" y="1196">37.43</text>
<text class="sv" x="1018.7" y="1196">/</text>
<text class="sv" text-anchor="end" x="1053.1" y="1196">24</text>
<text class="sv" x="867" y="1217">Constant</text>
<text class="sv" text-anchor="end" x="1053.1" y="1217">46.53</text>
<text class="sv" x="867" y="1238">Mean</text>
<text class="sv" text-anchor="end" x="1053.1" y="1238">1.007</text>
<text class="sv" x="867" y="1258">Sigma</text>
<text class="sv" text-anchor="end" x="1053.1" y="1258">0.2295E-01</text>
</g>
</svg>
</body>
</html>
